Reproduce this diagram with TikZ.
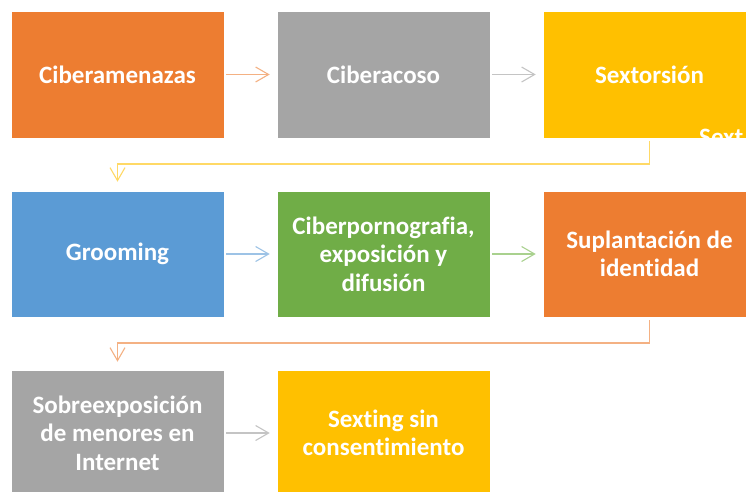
\documentclass[tikz,border=0pt]{standalone}
\usepackage{fontspec}
\setmainfont{Carlito}[Ligatures=NoCommon, WordSpace={1,0,0}]
\usetikzlibrary{arrows.meta}
\definecolor{cOrange}{HTML}{ED7D31}
\definecolor{cGray}{HTML}{A5A5A5}
\definecolor{cYellow}{HTML}{FFC000}
\definecolor{cBlue}{HTML}{5B9BD5}
\definecolor{cGreen}{HTML}{70AD47}
\definecolor{aOrange}{HTML}{F4B183}
\definecolor{aGray}{HTML}{C4C4C4}
\definecolor{aYellow}{HTML}{FFD966}
\definecolor{aBlue}{HTML}{9DC3E6}
\definecolor{aGreen}{HTML}{A9D18E}
\tikzset{
  box/.style={draw=white, line width=0.6pt, minimum width=213pt, minimum height=127pt,
    inner sep=4pt, align=center, text=white,
    font=\fontsize{25}{28.5}\selectfont\bfseries},
  arr/.style={line width=1.1pt, -{Straight Barb[length=13pt,width=15pt,line width=1.1pt]}},
}
\begin{document}
\begin{tikzpicture}[x=1pt,y=-1pt]
\useasboundingbox (0,0) rectangle (746,491);
\clip (0,0) rectangle (746,491);
\fill[white] (0,0) rectangle (746,491);
% row 1
\node[box, fill=cOrange] (a) at (117.5,74.5) {Ciberamenazas};
\node[box, fill=cGray]   (b) at (383.5,74.5) {Ciberacoso};
\node[box, fill=cYellow] (c) at (649.5,74.5) {Sextorsión};
\node[anchor=base west, text=white, inner sep=0pt, font=\fontsize{25}{28.5}\selectfont\bfseries] (ghost) at (699,145) {Sext};
% row 2
\node[box, fill=cBlue, minimum height=126pt]  (d) at (117.5,254) {Grooming};
\node[box, fill=cGreen, minimum height=126pt] (e) at (383.5,254) {Ciberpornografia,\\exposición y\\difusión};
\node[box, fill=cOrange, minimum height=126pt] (f) at (649.5,254) {Suplantación de\\identidad};
% row 3
\node[box, fill=cGray, minimum height=126pt]   (g) at (117.5,433) {Sobreexposición\\de menores en\\Internet};
\node[box, fill=cYellow, minimum height=126pt] (h) at (383.5,433) {Sexting sin\\consentimiento};
% connectors
\draw[arr, aOrange] ([xshift=2pt]a.east) -- ([xshift=-7pt]b.west);
\draw[arr, aGray]   ([xshift=2pt]b.east) -- ([xshift=-7pt]c.west);
\coordinate (k1) at (0,164);
\draw[arr, aYellow, line join=miter] ([yshift=-3pt]c.south) -- (c.south |- k1) -- (d.north |- k1) -- ([yshift=9pt]d.north);
\draw[arr, aBlue]   ([xshift=2pt]d.east) -- ([xshift=-7pt]e.west);
\draw[arr, aGreen]  ([xshift=2pt]e.east) -- ([xshift=-7pt]f.west);
\coordinate (k2) at (0,343);
\draw[arr, aOrange, line join=miter] ([yshift=-3pt]f.south) -- (f.south |- k2) -- (g.north |- k2) -- ([yshift=8pt]g.north);
\draw[arr, aGray]   ([xshift=2pt]g.east) -- ([xshift=-7pt]h.west);
\end{tikzpicture}
\end{document}
